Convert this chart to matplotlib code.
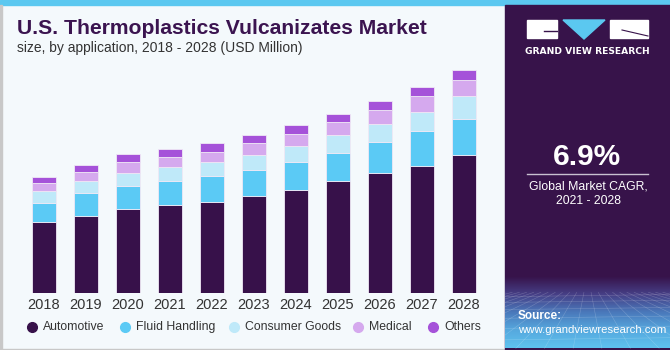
import numpy as np
import matplotlib.pyplot as plt
from matplotlib.lines import Line2D
from matplotlib.patches import Rectangle, Polygon
from matplotlib.colors import LinearSegmentedColormap

years = ["2018", "2019", "2020", "2021", "2022", "2023", "2024", "2025", "2026", "2027", "2028"]
automotive = [70.4, 77.0, 83.7, 87.4, 91.0, 96.7, 103.0, 111.4, 119.4, 126.7, 138.0]
fluid_handling = [19.0, 23.0, 22.7, 24.6, 26.0, 25.7, 28.0, 28.0, 31.0, 35.3, 36.0]
consumer_goods = [12.3, 12.0, 13.6, 14.0, 13.7, 15.6, 15.7, 18.0, 18.3, 19.0, 22.7]
medical = [8.3, 8.4, 10.4, 9.7, 10.3, 11.7, 12.0, 13.3, 14.3, 15.7, 15.7]
others = [6.0, 7.3, 8.0, 7.7, 9.0, 7.7, 8.7, 7.7, 9.0, 9.0, 10.6]

series = ["Automotive", "Fluid Handling", "Consumer Goods", "Medical", "Others"]
colors = ["#37114A", "#5BCAF5", "#BFE9F9", "#D5A9EE", "#A552D9"]

W, H = 670, 350
fig = plt.figure(figsize=(W / 100, H / 100), dpi=100, facecolor="#F4F9FC")

# background pieces
fig.add_artist(Rectangle((0, 1 - 5 / H), 1, 5 / H, transform=fig.transFigure, color="#5BC8F0", zorder=0))
fig.add_artist(Rectangle((0, 0), 1.5 / W, 1 - 5 / H, transform=fig.transFigure, color="#C8C8C8", zorder=0))
fig.add_artist(Rectangle((0, 0), 1, 1.5 / H, transform=fig.transFigure, color="#C8C8C8", zorder=0))
fig.add_artist(Rectangle((505 / W, 0), 1, 1 - 5 / H, transform=fig.transFigure, color="#37134A", zorder=1))

# gradient at bottom of side panel
gax = fig.add_axes([505 / W, 1.5 / H, 165 / W, 72 / H])
gax.set_zorder(2)
grad = np.linspace(0, 1, 100).reshape(-1, 1)
cmap = LinearSegmentedColormap.from_list("g", ["#37134A", "#463F86", "#4A78BA", "#56A8DE", "#5EC2EE"])
gax.imshow(grad, aspect="auto", cmap=cmap, extent=[0, 1, 0, 1], origin="upper")
for k in np.linspace(-1.5, 2.5, 24):
    gax.plot([0.5 + (k - 0.5) * 0.25, k], [0.78, 0], color="white", lw=0.4, alpha=0.22)
for yy in [0.72, 0.64, 0.54, 0.42, 0.28, 0.12]:
    gax.plot([0, 1], [yy, yy + 0.03], color="white", lw=0.4, alpha=0.22)
gax.set_xlim(0, 1)
gax.set_ylim(0, 1)
gax.axis("off")

# chart
ax = fig.add_axes([23 / W, (H - 292.7) / H, 462 / W, 232.7 / H])
ax.set_facecolor("none")
x = np.arange(len(years))
bottom = np.zeros(len(years))
for name, vals, c in zip(series, [automotive, fluid_handling, consumer_goods, medical, others], colors):
    ax.bar(x, vals, width=0.57, bottom=bottom, color=c, edgecolor="#EFE8F5", linewidth=0.6, label=name)
    bottom += np.array(vals)
ax.set_xlim(-0.5, len(years) - 0.5)
ax.set_ylim(0, 232.7)
ax.set_xticks(x)
ax.set_xticklabels(years, fontsize=10.5, color="#333333", family="Liberation Sans")
ax.tick_params(axis="x", length=0, pad=4)
ax.set_yticks([])
for s in ax.spines.values():
    s.set_visible(False)

# titles
fig.text(17 / W, 1 - 29 / H, "U.S. Thermoplastics Vulcanizates Market", fontsize=15.2, fontweight="bold",
         color="#3B1450", family="Liberation Sans", va="center")
fig.text(17 / W, 1 - 48 / H, "size, by application, 2018 - 2028 (USD Million)", fontsize=10,
         color="#333333", family="Liberation Sans", va="center")

# legend
mx = [32, 125, 234, 358, 433]
for px, name, c in zip(mx, series, colors):
    fig.add_artist(Line2D([px / W], [1 - 327 / H], marker="o", markersize=7, color=c, linestyle="none",
                          transform=fig.transFigure))
    fig.text((px + 11) / W, 1 - 327 / H, name, fontsize=8.8, color="#333333", family="Liberation Sans", va="center")

# side panel contents
fig.add_artist(Rectangle((527 / W, 1 - 38 / H), 30 / W, 18 / H, transform=fig.transFigure, color="white", zorder=3))
fig.add_artist(Rectangle((610 / W, 1 - 38 / H), 38 / W, 18 / H, transform=fig.transFigure, color="white", zorder=3))
fig.add_artist(Polygon([(563 / W, 1 - 20 / H), (605 / W, 1 - 20 / H), (584 / W, 1 - 39 / H)], closed=True,
                       transform=fig.transFigure, color="#5BC8F0", zorder=3))
fig.add_artist(Line2D([544 / W, 557 / W], [1 - 31 / H, 1 - 31 / H], color="#37134A", lw=1, transform=fig.transFigure, zorder=4))
fig.add_artist(Line2D([622 / W, 648 / W], [1 - 30 / H, 1 - 36 / H], color="#37134A", lw=0.8, transform=fig.transFigure, zorder=4))
fig.text(587.5 / W, 1 - 51 / H, "GRAND VIEW RESEARCH", fontsize=6.6, fontweight="bold", color="white",
         ha="center", va="center", family="DejaVu Sans", zorder=4)

fig.text(587 / W, 1 - 157 / H, "6.9%", fontsize=21.5, fontweight="bold", color="white", ha="center", va="center",
         family="Liberation Sans", zorder=4)
fig.add_artist(Line2D([527 / W, 648 / W], [1 - 173.5 / H, 1 - 173.5 / H], color="#C8C0D0", lw=1,
                      transform=fig.transFigure, zorder=4))
fig.text(588 / W, 1 - 186 / H, "Global Market CAGR,", fontsize=8.8, color="white", ha="center", va="center",
         family="Liberation Sans", zorder=4)
fig.text(588 / W, 1 - 201 / H, "2021 - 2028", fontsize=8.8, color="white", ha="center", va="center",
         family="Liberation Sans", zorder=4)

fig.text(518 / W, 1 - 316 / H, "Source:", fontsize=8.5, fontweight="bold", color="white", va="center",
         family="Liberation Sans", zorder=4)
fig.text(518 / W, 1 - 330 / H, "www.grandviewresearch.com", fontsize=8.2, color="white", va="center",
         family="Liberation Sans", zorder=4)

fig.savefig("out.png", dpi=100, facecolor=fig.get_facecolor())
